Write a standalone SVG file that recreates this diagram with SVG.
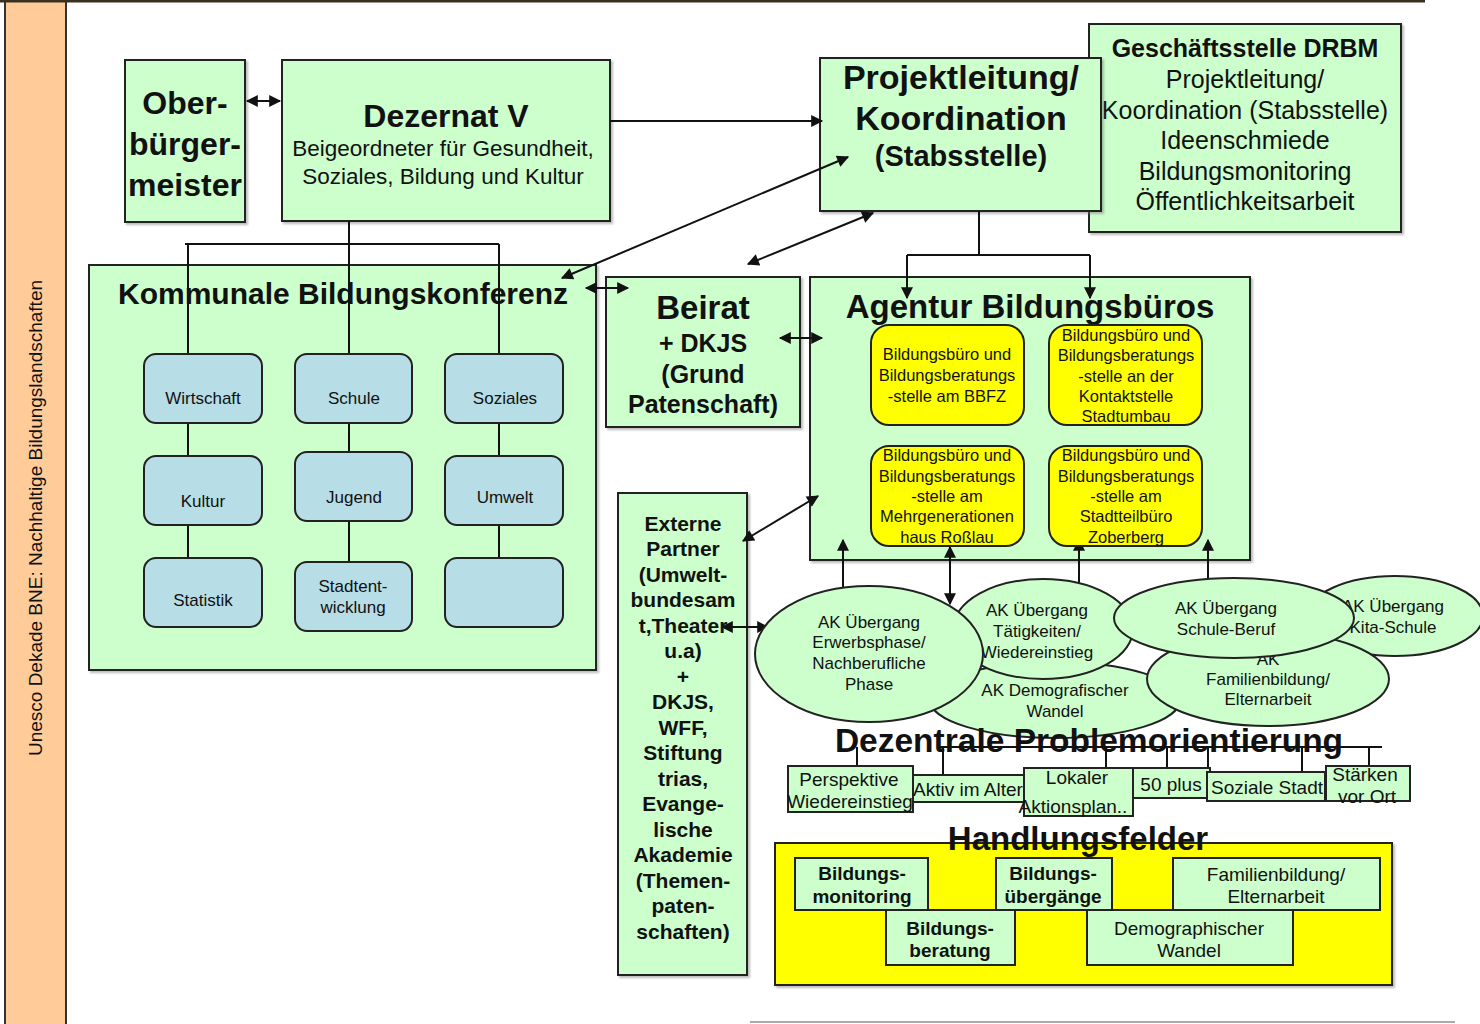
<svg xmlns="http://www.w3.org/2000/svg" width="1480" height="1024" viewBox="0 0 1480 1024">
<defs>
<style>
text{font-family:"Liberation Sans",Arial,sans-serif;fill:#111;text-anchor:middle}
.b{font-weight:bold}
.g{fill:#CCFFCC;stroke:#222;stroke-width:2}
.bl{fill:#B7DDE6;stroke:#222;stroke-width:2}
.y{fill:#FFFF00;stroke:#222;stroke-width:2}
.ln{fill:none;stroke:#111;stroke-width:2}
.ar{fill:none;stroke:#111;stroke-width:2;marker-end:url(#ah)}
.da{fill:none;stroke:#111;stroke-width:2;marker-end:url(#ah);marker-start:url(#ah)}
.sh{filter:url(#shadow)}
</style>
<marker id="ah" viewBox="0 0 10 10" refX="9" refY="5" markerWidth="14" markerHeight="12" markerUnits="userSpaceOnUse" orient="auto-start-reverse">
<path d="M0,0 L10,5 L0,10 z" fill="#111"/>
</marker>
<filter id="shadow" x="-5%" y="-5%" width="110%" height="110%">
<feDropShadow dx="2" dy="2" stdDeviation="1" flood-color="#777" flood-opacity="0.5"/>
</filter>
</defs>

<rect width="1480" height="1024" fill="#fff"/>

<g id="stripe">
<rect x="5" y="-2" width="61" height="1030" fill="#FFCC99" stroke="#333" stroke-width="2"/>
<text transform="translate(42,518) rotate(-90)" font-size="18.5" textLength="476" lengthAdjust="spacingAndGlyphs">Unesco Dekade BNE: Nachhaltige Bildungslandschaften</text>
</g>
<line x1="0" y1="1" x2="1425" y2="1" stroke="#3a3020" stroke-width="3"/>
<line x1="750" y1="1022" x2="1455" y2="1022" stroke="#aaa" stroke-width="2"/>

<g id="oberbuergermeister">
<rect class="g sh" x="125" y="60" width="120" height="162"/>
<text class="b" font-size="32" x="185" y="114">Ober-</text>
<text class="b" font-size="32" x="185" y="155">bürger-</text>
<text class="b" font-size="32" x="185" y="196">meister</text>
</g>

<g id="dezernat">
<rect class="g sh" x="282" y="60" width="328" height="161"/>
<text class="b" font-size="32" x="446" y="127">Dezernat V</text>
<text font-size="22.5" x="443" y="156">Beigeordneter für Gesundheit,</text>
<text font-size="22.5" x="443" y="184">Soziales, Bildung und Kultur</text>
</g>

<g id="geschaeftsstelle">
<rect class="g sh" x="1089" y="24" width="312" height="208"/>
<text class="b" font-size="25" x="1245" y="57">Geschäftsstelle DRBM</text>
<text font-size="25" x="1245" y="88">Projektleitung/</text>
<text font-size="25" x="1245" y="119">Koordination (Stabsstelle)</text>
<text font-size="25" x="1245" y="149">Ideenschmiede</text>
<text font-size="25" x="1245" y="180">Bildungsmonitoring</text>
<text font-size="25" x="1245" y="210">Öffentlichkeitsarbeit</text>
</g>

<g id="projektleitung">
<rect class="g sh" x="820" y="58" width="281" height="153"/>
<text class="b" font-size="34" x="961" y="89">Projektleitung/</text>
<text class="b" font-size="34" x="961" y="130">Koordination</text>
<text class="b" font-size="29" x="961" y="166">(Stabsstelle)</text>
</g>

<g id="kommunale">
<rect class="g sh" x="89" y="265" width="507" height="405"/>
<text class="b" font-size="30" x="343" y="304">Kommunale Bildungskonferenz</text>
</g>

<g id="beirat">
<rect class="g sh" x="606" y="277" width="194" height="150"/>
<text class="b" font-size="33" x="703" y="319">Beirat</text>
<text class="b" font-size="25" x="703" y="352">+ DKJS</text>
<text class="b" font-size="25" x="703" y="383">(Grund</text>
<text class="b" font-size="25" x="703" y="413">Patenschaft)</text>
</g>

<g id="agentur">
<rect class="g sh" x="810" y="277" width="440" height="283"/>
<text class="b" font-size="33" x="1030" y="318">Agentur Bildungsbüros</text>
</g>

<g id="externe">
<rect class="g sh" x="618" y="493" width="129" height="482"/>
<g class="b" font-size="21">
<text x="683" y="531">Externe</text>
<text x="683" y="556">Partner</text>
<text x="683" y="582">(Umwelt-</text>
<text x="683" y="607">bundesam</text>
<text x="683" y="633">t,Theater</text>
<text x="683" y="658">u.a)</text>
<text x="683" y="684">+</text>
<text x="683" y="709">DKJS,</text>
<text x="683" y="735">WFF,</text>
<text x="683" y="760">Stiftung</text>
<text x="683" y="786">trias,</text>
<text x="683" y="811">Evange-</text>
<text x="683" y="837">lische</text>
<text x="683" y="862">Akademie</text>
<text x="683" y="888">(Themen-</text>
<text x="683" y="913">paten-</text>
<text x="683" y="939">schaften)</text>
</g>
</g>

<g id="connectors">
<path class="da" d="M247,101 L280,101"/>
<path class="ar" d="M610,121 L822,121"/>
<path class="ln" d="M349,221 L349,354 M185,244 L499,244 M188,244 L188,354 M499,244 L499,354"/>
<path class="ln" d="M188,423 L188,456 M188,525 L188,558 M349,423 L349,452 M349,521 L349,562 M499,423 L499,456 M499,525 L499,558"/>
<path class="da" d="M562,278 L848,157"/>
<path class="da" d="M748,264 L873,213"/>
<path class="da" d="M586,288 L628,288"/>
<path class="ln" d="M979,211 L979,255 M907,255 L1090,255"/>
<path class="ar" d="M907,255 L907,298"/>
<path class="ar" d="M1090,255 L1090,298"/>
<path class="da" d="M780,338 L822,338"/>
<path class="da" d="M743,541 L818,496"/>
<path class="da" d="M722,627 L768,627"/>
<path class="ar" d="M843,588 L843,540"/>
<path class="da" d="M950,547 L950,604"/>
<path class="ar" d="M1079,583 L1079,540"/>
<path class="ar" d="M1208,580 L1208,540"/>
<path class="ln" d="M940,747 L1382,747 M857,747 L857,766 M943,747 L943,775 M1106,747 L1106,768 M1167,747 L1167,768 M1208,747 L1208,772 M1302,747 L1302,772 M1369,747 L1369,766"/>
</g>

<g id="wirtschaft"><rect class="bl" x="144" y="354" width="118" height="69" rx="12"/><text font-size="17" x="203" y="404">Wirtschaft</text></g>
<g id="kultur"><rect class="bl" x="144" y="456" width="118" height="69" rx="12"/><text font-size="17" x="203" y="507">Kultur</text></g>
<g id="statistik"><rect class="bl" x="144" y="558" width="118" height="69" rx="12"/><text font-size="17" x="203" y="606">Statistik</text></g>
<g id="schule"><rect class="bl" x="295" y="354" width="117" height="69" rx="12"/><text font-size="17" x="354" y="404">Schule</text></g>
<g id="jugend"><rect class="bl" x="295" y="452" width="117" height="69" rx="12"/><text font-size="17" x="354" y="503">Jugend</text></g>
<g id="stadtentwicklung"><rect class="bl" x="295" y="562" width="117" height="69" rx="12"/><text font-size="17" x="353" y="592">Stadtent-</text><text font-size="17" x="353" y="613">wicklung</text></g>
<g id="soziales"><rect class="bl" x="445" y="354" width="118" height="69" rx="12"/><text font-size="17" x="505" y="404">Soziales</text></g>
<g id="umwelt"><rect class="bl" x="445" y="456" width="118" height="69" rx="12"/><text font-size="17" x="505" y="503">Umwelt</text></g>
<g id="leer"><rect class="bl" x="445" y="558" width="118" height="69" rx="12"/></g>

<g id="buero-bbfz" font-size="16.5">
<rect class="y" x="871" y="325" width="153" height="100" rx="18"/>
<text x="947" y="360">Bildungsbüro und</text>
<text x="947" y="381">Bildungsberatungs</text>
<text x="947" y="402">-stelle am BBFZ</text>
</g>
<g id="buero-stadtumbau" font-size="16.5">
<rect class="y" x="1049" y="325" width="153" height="100" rx="18"/>
<text x="1126" y="341">Bildungsbüro und</text>
<text x="1126" y="361">Bildungsberatungs</text>
<text x="1126" y="382">-stelle an der</text>
<text x="1126" y="402">Kontaktstelle</text>
<text x="1126" y="422">Stadtumbau</text>
</g>
<g id="buero-rosslau" font-size="16.5">
<rect class="y" x="871" y="446" width="153" height="100" rx="18"/>
<text x="947" y="461">Bildungsbüro und</text>
<text x="947" y="482">Bildungsberatungs</text>
<text x="947" y="502">-stelle am</text>
<text x="947" y="522">Mehrgenerationen</text>
<text x="947" y="543">haus Roßlau</text>
</g>
<g id="buero-zoberberg" font-size="16.5">
<rect class="y" x="1049" y="446" width="153" height="100" rx="18"/>
<text x="1126" y="461">Bildungsbüro und</text>
<text x="1126" y="482">Bildungsberatungs</text>
<text x="1126" y="502">-stelle am</text>
<text x="1126" y="522">Stadtteilbüro</text>
<text x="1126" y="543">Zoberberg</text>
</g>

<g id="ak-demografie" font-size="17">
<ellipse class="g" cx="1055" cy="700" rx="125" ry="38"/>
<text x="1055" y="696">AK Demografischer</text>
<text x="1055" y="717">Wandel</text>
</g>
<g id="ak-kita" font-size="17">
<ellipse class="g" cx="1395" cy="616" rx="88" ry="40"/>
<text x="1393" y="612">AK Übergang</text>
<text x="1393" y="633">Kita-Schule</text>
</g>
<g id="ak-familie" font-size="17">
<ellipse class="g" cx="1268" cy="679" rx="121" ry="47"/>
<text x="1268" y="665">AK</text>
<text x="1268" y="685">Familienbildung/</text>
<text x="1268" y="705">Elternarbeit</text>
</g>
<g id="ak-taetigkeiten" font-size="17">
<ellipse class="g" cx="1043" cy="629" rx="90" ry="50"/>
<text x="1037" y="616">AK Übergang</text>
<text x="1037" y="637">Tätigkeiten/</text>
<text x="1037" y="658">Wiedereinstieg</text>
</g>
<g id="ak-schule-beruf" font-size="17">
<ellipse class="g" cx="1234" cy="618" rx="120" ry="40"/>
<text x="1226" y="614">AK Übergang</text>
<text x="1226" y="635">Schule-Beruf</text>
</g>
<g id="ak-erwerbsphase" font-size="17">
<ellipse class="g" cx="869" cy="654" rx="114" ry="68"/>
<text x="869" y="628">AK Übergang</text>
<text x="869" y="648">Erwerbsphase/</text>
<text x="869" y="669">Nachberufliche</text>
<text x="869" y="690">Phase</text>
</g>

<g id="dezentrale">
<text class="b" font-size="33.5" x="1089" y="752">Dezentrale Problemorientierung</text>
</g>
<g id="perspektive" font-size="19"><rect class="g" x="788" y="766" width="125" height="46"/><text x="849" y="786">Perspektive</text><text x="850" y="808">Wiedereinstieg</text></g>
<g id="aktiv" font-size="19"><rect class="g" x="913" y="775" width="114" height="27"/><text x="968" y="796">Aktiv im Alter</text></g>
<g id="lokaler" font-size="19"><rect class="g" x="1024" y="768" width="109" height="48"/><text x="1077" y="784">Lokaler</text><text x="1073" y="813">Aktionsplan..</text></g>
<g id="fuenfzig" font-size="19"><rect class="g" x="1133" y="768" width="77" height="30"/><text x="1171" y="791">50 plus</text></g>
<g id="soziale-stadt" font-size="19"><rect class="g" x="1207" y="772" width="118" height="29"/><text x="1267" y="794">Soziale Stadt</text></g>
<g id="staerken" font-size="19"><rect class="g" x="1326" y="766" width="84" height="35"/><text x="1365" y="781">Stärken</text><text x="1367" y="803">vor Ort</text></g>

<g id="handlungsfelder">
<rect class="y sh" x="775" y="843" width="617" height="142"/>
<text class="b" font-size="33" x="1078" y="850">Handlungsfelder</text>
</g>
<g id="hf-monitoring" font-size="19"><rect class="g" x="795" y="858" width="133" height="52"/><text class="b" x="862" y="880">Bildungs-</text><text class="b" x="862" y="903">monitoring</text></g>
<g id="hf-uebergaenge" font-size="19"><rect class="g" x="996" y="858" width="116" height="52"/><text class="b" x="1053" y="880">Bildungs-</text><text class="b" x="1053" y="903">übergänge</text></g>
<g id="hf-familie" font-size="19"><rect class="g" x="1173" y="858" width="207" height="52"/><text x="1276" y="881">Familienbildung/</text><text x="1276" y="903">Elternarbeit</text></g>
<g id="hf-beratung" font-size="19"><rect class="g" x="886" y="910" width="129" height="55"/><text class="b" x="950" y="935">Bildungs-</text><text class="b" x="950" y="957">beratung</text></g>
<g id="hf-demografie" font-size="19"><rect class="g" x="1087" y="910" width="206" height="55"/><text x="1189" y="935">Demographischer</text><text x="1189" y="957">Wandel</text></g>
</svg>
